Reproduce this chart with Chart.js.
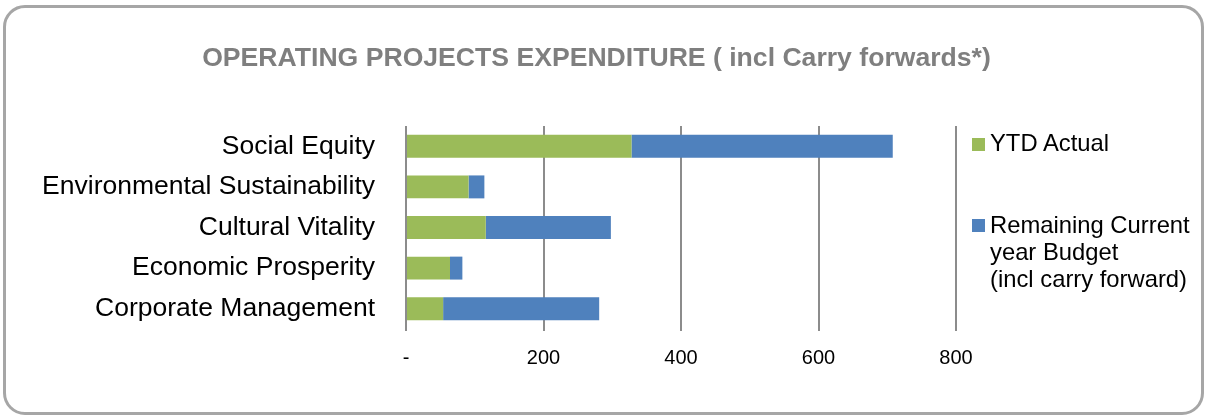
<!DOCTYPE html>
<html>
<head>
<meta charset="utf-8">
<script src="https://cdn.jsdelivr.net/npm/chart.js@4/dist/chart.umd.min.js"></script>
<style>
    html, body { margin: 0; padding: 0; background: #fff; }
    #wrap { position: relative; width: 1208px; height: 417px; font-family: "Liberation Sans", Arial, sans-serif; }
    #frame {
        position: absolute; left: 3px; top: 5px; width: 1201px; height: 410px;
        box-sizing: border-box; border: 3.5px solid #a6a6a6; border-radius: 22px;
    }
    #title {
        position: absolute; left: 0; top: 41px; width: 1193px; text-align: center;
        font-weight: bold; font-size: 26.6px; line-height: 32px; color: #7f7f7f; white-space: nowrap;
    }
    canvas { position: absolute; left: 0; top: 0; }
    .swatch { position: absolute; left: 972px; width: 13px; height: 13px; }
    .legendText { position: absolute; left: 990px; font-size: 23.8px; line-height: 26.7px; color: #000; white-space: nowrap; }
</style>
</head>
<body>
<div id="wrap">
    <div id="frame"></div>
    <canvas id="expenditureChart" width="1208" height="417"></canvas>
    <div id="title">OPERATING PROJECTS EXPENDITURE ( incl Carry forwards*)</div>
    <div id="legend"></div>
</div>
<script>
const categories = [
    "Social Equity",
    "Environmental Sustainability",
    "Cultural Vitality",
    "Economic Prosperity",
    "Corporate Management"
];
const ytdActual = [328, 91, 116, 64, 54];
const remainingBudget = [380, 23, 182, 18, 227];
const xTickLabels = ["-", "200", "400", "600", "800"];
const seriesNames = [
    ["YTD Actual"],
    ["Remaining Current", "year Budget", "(incl carry forward)"]
];
const seriesColors = ["#9bbb59", "#4f81bd"];

const fontFamily = '"Liberation Sans", Arial, sans-serif';

// Legend drawn as plain html next to the plot
const legendTops = [129.5, 212.3];
const swatchTops = [138, 219];
const legend = document.getElementById("legend");
seriesNames.forEach((lines, i) => {
    const sw = document.createElement("div");
    sw.className = "swatch";
    sw.style.top = swatchTops[i] + "px";
    sw.style.background = seriesColors[i];
    legend.appendChild(sw);
    const txt = document.createElement("div");
    txt.className = "legendText";
    txt.style.top = legendTops[i] + "px";
    txt.innerHTML = lines.join("<br>");
    legend.appendChild(txt);
});

const ctx = document.getElementById("expenditureChart").getContext("2d");

new Chart(ctx, {
    type: 'bar',
    data: {
        labels: categories,
        datasets: [
            {
                label: seriesNames[0].join(" "),
                data: ytdActual,
                backgroundColor: seriesColors[0],
                barPercentage: 0.565,
                categoryPercentage: 1
            },
            {
                label: seriesNames[1].join(" "),
                data: remainingBudget,
                backgroundColor: seriesColors[1],
                barPercentage: 0.565,
                categoryPercentage: 1
            }
        ]
    },
    options: {
        indexAxis: 'y',
        responsive: false,
        animation: false,
        layout: {
            padding: { top: 126, right: 252, left: 0, bottom: 0 }
        },
        plugins: {
            legend: { display: false },
            title: { display: false },
            tooltip: { enabled: false }
        },
        scales: {
            x: {
                stacked: true,
                min: 0,
                max: 800,
                afterFit: (scale) => { scale.height = 88; },
                grid: {
                    color: '#8c8c8c',
                    lineWidth: 2,
                    drawTicks: true,
                    tickLength: 2
                },
                border: { display: false },
                ticks: {
                    stepSize: 200,
                    padding: 15,
                    color: '#000',
                    font: { family: fontFamily, size: 20 },
                    callback: (value, index) => xTickLabels[index]
                }
            },
            y: {
                stacked: true,
                afterFit: (scale) => { scale.width = 406; },
                grid: { display: false, drawTicks: false },
                border: { display: false },
                ticks: {
                    padding: 31,
                    color: '#000',
                    font: { family: fontFamily, size: 26.5 }
                }
            }
        }
    }
});
</script>
</body>
</html>
